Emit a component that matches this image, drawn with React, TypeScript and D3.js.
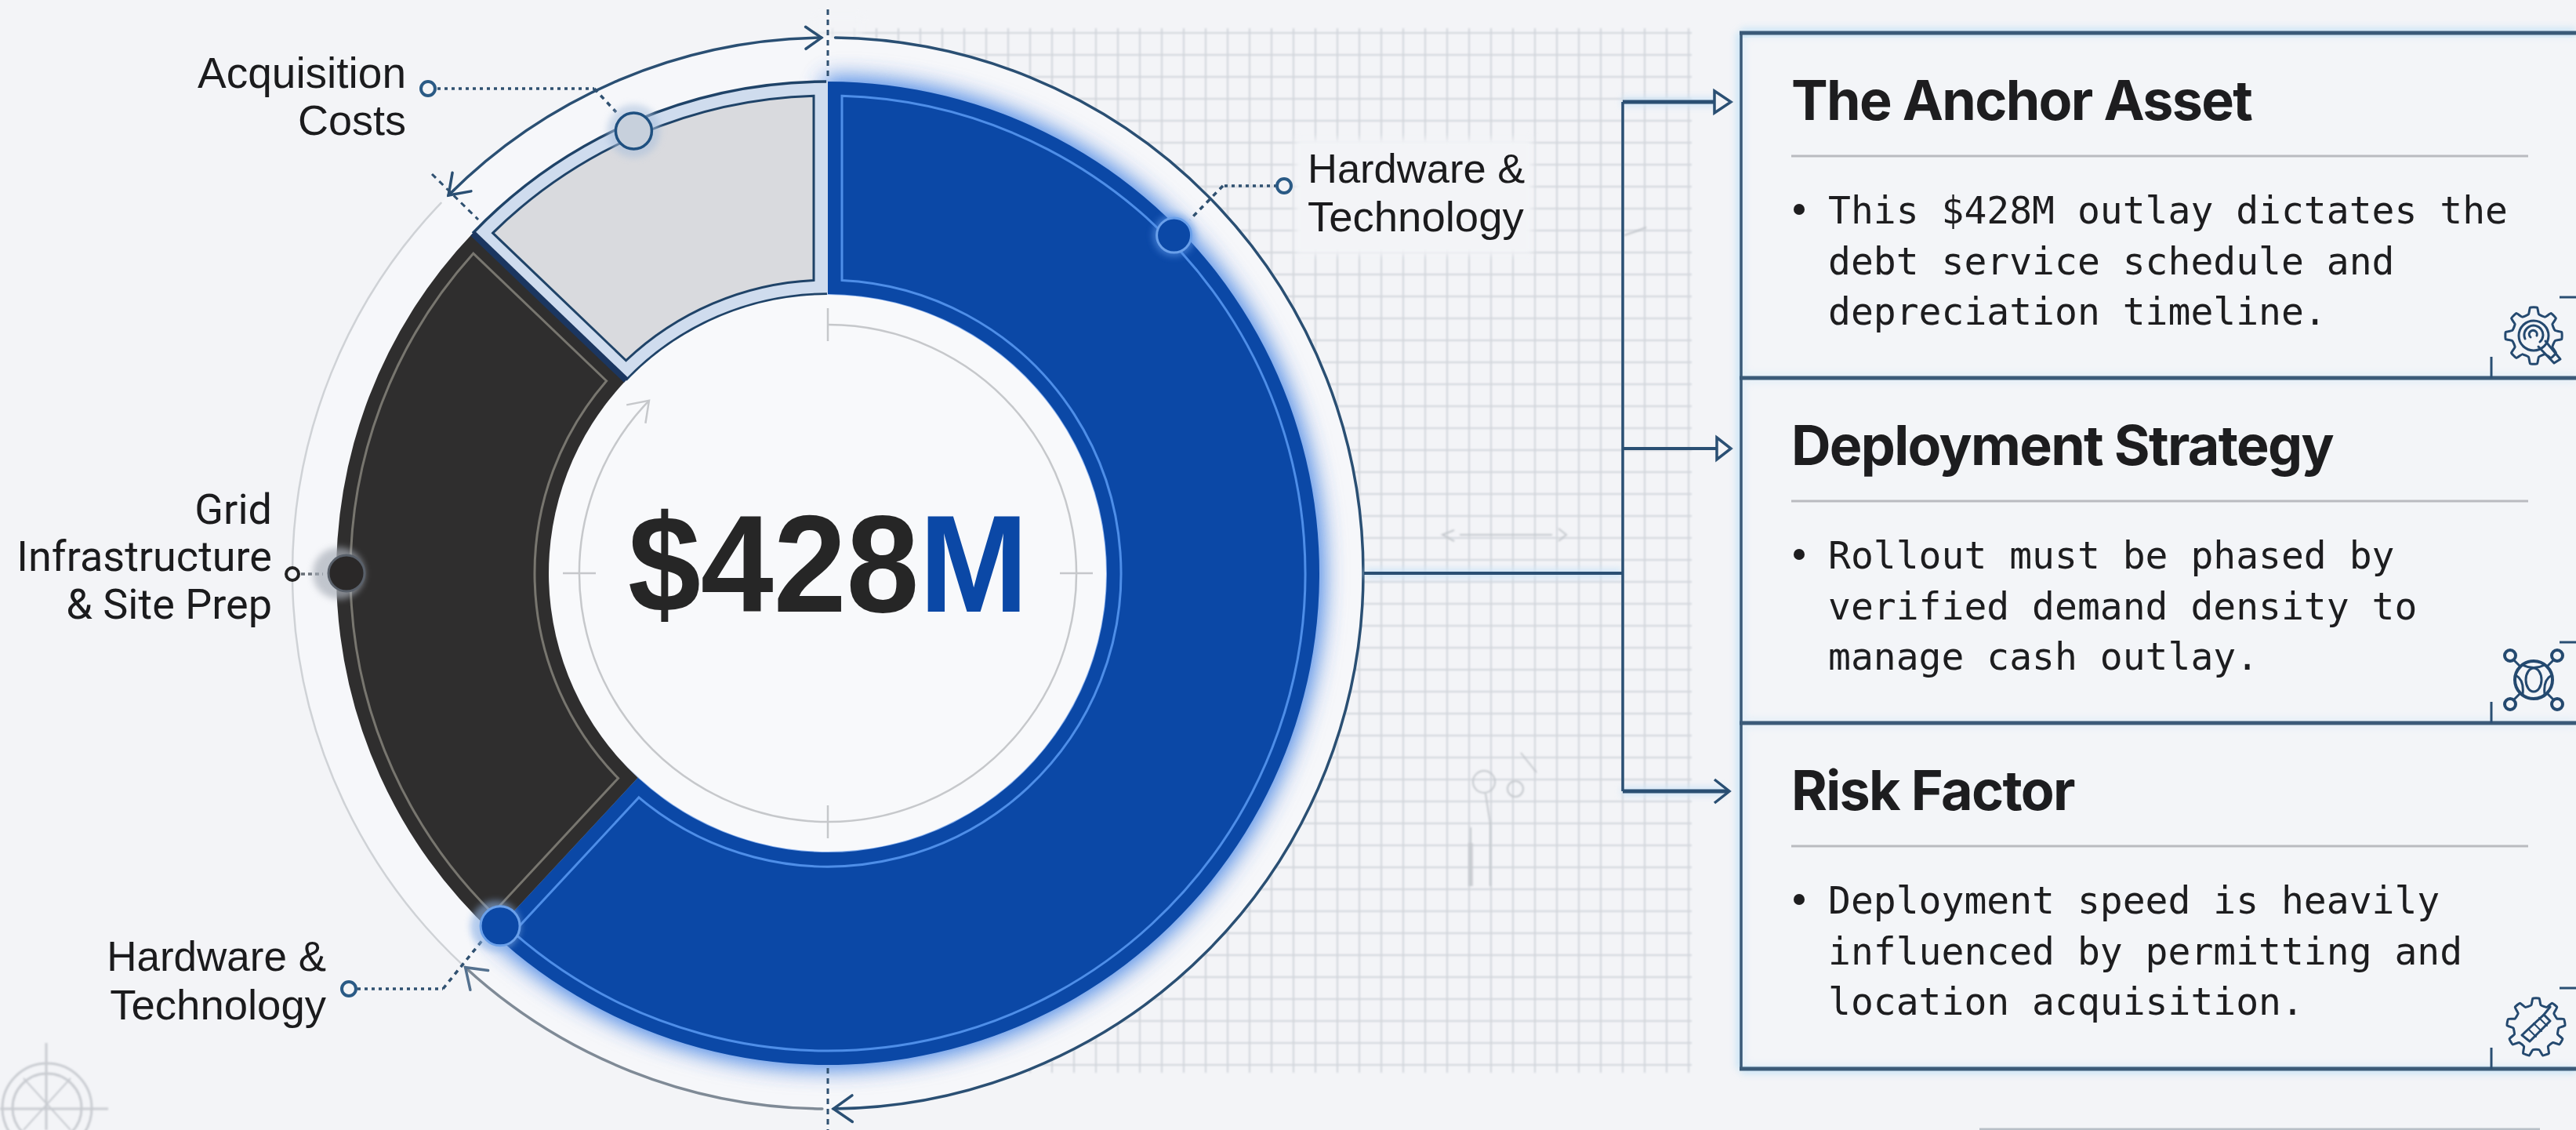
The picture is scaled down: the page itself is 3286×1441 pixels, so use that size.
import React from "react";
import * as d3 from "d3";

// Capital outlay split, in $M
const segmentNames = ["Hardware & Technology", "Grid Infrastructure & Site Prep", "Acquisition Costs"];
const segmentValues = [265, 108, 55];
const totalLabel = "$428";
const totalUnit = "M";

const cardTitles = ["The Anchor Asset", "Deployment Strategy", "Risk Factor"];
const cardLines = [
  ["This $428M outlay dictates the", "debt service schedule and", "depreciation timeline."],
  ["Rollout must be phased by", "verified demand density to", "manage cash outlay."],
  ["Deployment speed is heavily", "influenced by permitting and", "location acquisition."],
];

const W = 3286;
const H = 1441;
const cx = 1056;
const cy = 731;
const R = 627;
const r0 = 356;
const INSET = 18;
const RING = 683;
const INNER_RING = 317;
const NAVY = "#2a4f73";
const BLUE = "#0b48a6";
const SANS = "'Liberation Sans', Arial, sans-serif";
const ROBOTO = "Roboto, sans-serif";
const MONO = "'DejaVu Sans Mono', monospace";
const BG = "#f3f4f7";
const deg = (d: number) => (d * Math.PI) / 180;

const polar = (a: number, r: number): [number, number] => [cx + r * Math.sin(a), cy - r * Math.cos(a)];

const ringArc = (r: number, a0: number, a1: number) => {
  const p = d3.path();
  const [x, y] = polar(a0, r);
  p.moveTo(x, y);
  p.arc(cx, cy, r, a0 - Math.PI / 2, a1 - Math.PI / 2, false);
  return p.toString();
};

// Open arrowhead on a circle, pointing along the clockwise tangent when dir is 1
const chevron = (a: number, r: number, dir: number, size: number) => {
  const [x, y] = polar(a, r);
  const tx = Math.cos(a) * dir;
  const ty = Math.sin(a) * dir;
  const nx = Math.sin(a);
  const ny = -Math.cos(a);
  const p1 = [x - tx * size + nx * size * 0.7, y - ty * size + ny * size * 0.7];
  const p2 = [x - tx * size - nx * size * 0.7, y - ty * size - ny * size * 0.7];
  return `M${p1[0]},${p1[1]}L${x},${y}L${p2[0]},${p2[1]}`;
};

// Cog outline around the origin
const gearPath = (teeth: number, outer: number, inner: number) => {
  const pts: [number, number][] = [];
  const step = (Math.PI * 2) / teeth;
  d3.range(teeth).forEach((i) => {
    const a = i * step;
    pts.push([a - step * 0.3, inner], [a - step * 0.16, outer], [a + step * 0.16, outer], [a + step * 0.3, inner]);
  });
  return d3.lineRadial().curve(d3.curveCardinalClosed.tension(0.6))(pts) as string;
};

const pie = d3.pie<number>().sort(null).startAngle(0).endAngle(Math.PI * 2)(segmentValues);
const [hardware, gridSite, acquisition] = pie;

const sliceArc = d3.arc<any>().innerRadius(r0).outerRadius(R);
const padA = 0.04;
const insetArc = d3
  .arc<any>()
  .innerRadius(r0 + INSET)
  .outerRadius(R - INSET)
  .padAngle(padA)
  .padRadius(INSET / Math.sin(padA / 2));

const gridX = d3.range(2154, 1040, -28);
const gridY = d3.range(42, 1370, 28);
const cardTops = [42, 482, 922];
const cardBottom = 1363;

function Card({ index }: { index: number }) {
  const top = cardTops[index];
  const bottom = index < 2 ? cardTops[index + 1] : cardBottom;
  return (
    <g>
      <text x={2285} y={top + 111} fontFamily="Inter, sans-serif" fontWeight={700} fontSize={70} letterSpacing={-1.7} fill="#1d1d1f">
        {cardTitles[index]}
      </text>
      <line x1={2285} x2={3225} y1={top + 157} y2={top + 157} stroke="#b9bbc0" strokeWidth={3} />
      <circle cx={2295} cy={top + 225} r={7} fill="#1d1d1f" />
      {cardLines[index].map((line, i) => (
        <text key={i} x={2332} y={top + 243 + i * 64.5} fontFamily={MONO} fontSize={48} fill="#1d1d1f">
          {line}
        </text>
      ))}
      <line x1={3178} x2={3178} y1={bottom - 27} y2={bottom} stroke={NAVY} strokeWidth={3} />
      <line x1={3265} x2={3286} y1={bottom - 103} y2={bottom - 103} stroke={NAVY} strokeWidth={3} />
    </g>
  );
}

function Icons() {
  const stroke = { fill: "none", stroke: "#24496f", strokeWidth: 3, strokeLinejoin: "round" as const, strokeLinecap: "round" as const };
  return (
    <g>
      <g transform="translate(3232,428)" {...stroke}>
        <path d={gearPath(8, 36, 28)} />
        <circle r={19} />
        <path d="M-11,4A12,12 0 1 1 8,8" />
        <path d="M-4,2A5,5 0 1 1 4,0" />
        <path d="M6,14L26,35L34,30L15,7" />
      </g>
      <g transform="translate(3232,867)" {...stroke}>
        <circle r={24} strokeWidth={4} />
        <ellipse rx={10} ry={15} />
        <path d="M-23,-6Q-12,0 -14,18M23,-6Q12,0 14,18M-14,-19Q0,-12 14,-19" />
        {[[-1, -1], [1, -1], [-1, 1], [1, 1]].map(([sx, sy], i) => (
          <g key={i}>
            <line x1={sx * 17} y1={sy * 17} x2={sx * 25} y2={sy * 25} />
            <circle cx={sx * 30} cy={sy * 31} r={7} strokeWidth={4} />
          </g>
        ))}
      </g>
      <g transform="translate(3235,1310)" {...stroke}>
        <path d={gearPath(9, 37, 29)} />
        <path d="M-18,10L10,-16L18,-8L-8,18Z" />
        <path d="M-10,2L0,12M-3,-5L7,5M4,-12L14,-2" strokeWidth={2} />
        <path d="M10,-16L18,-26" />
      </g>
    </g>
  );
}

export default function App() {
  const a0 = hardware.endAngle;
  const a1 = gridSite.endAngle;
  const dots = {
    acquisition: polar(deg(336.3), 616),
    hardwareTop: polar(deg(45.7), 617),
    hardwareLow: polar(a0, 614),
    grid: polar(deg(270), 614),
  };

  return (
    <svg width={W} height={H} viewBox={`0 0 ${W} ${H}`} style={{ position: "absolute", left: 0, top: 0, display: "block" }}>
      <defs>
        <filter id="soft" x="-10%" y="-10%" width="120%" height="120%"><feGaussianBlur stdDeviation={0.8} /></filter>
        <filter id="blur4" x="-20%" y="-20%" width="140%" height="140%"><feGaussianBlur stdDeviation={4} /></filter>
        <filter id="glow" x="-20%" y="-20%" width="140%" height="140%"><feGaussianBlur stdDeviation={14} /></filter>
        <filter id="wide" x="-30%" y="-30%" width="160%" height="160%"><feGaussianBlur stdDeviation={18} /></filter>
      </defs>
      <rect width={W} height={H} fill={BG} />

      {/* Drafting grid behind the chart */}
      <g stroke="#d1d5db" strokeWidth={2} filter="url(#soft)">
        {gridX.map((x) => <line key={x} x1={x} x2={x} y1={36} y2={1368} />)}
        {gridY.map((y) => <line key={y} x1={1040} x2={2158} y1={y} y2={y} />)}
      </g>
      <rect x={1040} y={20} width={60} height={1360} fill={BG} opacity={0.6} filter="url(#blur4)" />

      {/* Faint sketch marks on the grid */}
      <g fill="none" stroke="#c4c8cd" strokeWidth={2} filter="url(#soft)">
        <path d="M1862,682H1980M1855,676L1840,682L1855,690M1988,674L1998,682L1988,690" />
        <circle cx={1893} cy={997} r={14} />
        <circle cx={1933} cy={1006} r={10} />
        <path d="M1895,1012L1901,1050V1130M1876,1055V1130" />
        <path d="M1876,1075V1130" strokeWidth={6} opacity={0.7} />
        <path d="M1940,960L1960,985" />
        <path d="M2072,300Q2085,296 2100,290" />
      </g>

      {/* Clear space for the label that sits on the grid */}
      <rect x={1652} y={177} width={303} height={148} fill={BG} filter="url(#blur4)" />

      {/* Disc that clears the grid around the donut */}
      <circle cx={cx} cy={cy} r={RING} fill="#f6f7fa" />

      {/* Compass rose */}
      <g fill="none" stroke="#c9ccd1" strokeWidth={3} filter="url(#soft)">
        <circle cx={60} cy={1413} r={57} />
        <circle cx={60} cy={1413} r={44} />
        <line x1={59} x2={59} y1={1330} y2={1441} />
        <line x1={0} x2={138} y1={1414} y2={1414} />
        <path d="M30,1375L90,1441M90,1375L30,1441" strokeWidth={2} />
      </g>

      {/* Blue glow and soft shadow under the largest slice */}
      <path transform={`translate(${cx},${cy})`} d={sliceArc(hardware) as string} fill="#c3c8d4" filter="url(#wide)" opacity={0.8} />
      <path transform={`translate(${cx},${cy})`} d={sliceArc(hardware) as string} fill="#3f85ee" stroke="#3f85ee" strokeWidth={10} filter="url(#glow)" opacity={0.9} />

      {/* Donut slices, drawn from the pie layout */}
      <g transform={`translate(${cx},${cy})`}>
        <path d={sliceArc(hardware) as string} fill={BLUE} />
        <path d={insetArc(hardware) as string} fill="none" stroke="#4e8ee8" strokeWidth={3} />
        <path d={sliceArc(gridSite) as string} fill="#2f2e2e" />
        <path d={insetArc(gridSite) as string} fill="none" stroke="#78766f" strokeWidth={3} />
        <path d={sliceArc(acquisition) as string} fill="#cfdcee" />
        <path d={insetArc(acquisition) as string} fill="#d9dade" stroke="#1f4368" strokeWidth={3} />
      </g>
      <path d={ringArc(R, a1, Math.PI * 2 - 0.003)} fill="none" stroke="#1f4368" strokeWidth={3.5} />
      <path d={ringArc(r0, a1, Math.PI * 2 - 0.003)} fill="none" stroke="#1f4368" strokeWidth={3.5} />
      <line
        x1={polar(a1, r0)[0]} y1={polar(a1, r0)[1]}
        x2={polar(a1, R)[0]} y2={polar(a1, R)[1]}
        stroke="#1b3660" strokeWidth={8}
      />

      {/* Centre hole and measuring ring */}
      <circle cx={cx} cy={cy} r={r0 - 1} fill="#f8f9fb" />
      <path d={ringArc(INNER_RING, 0, deg(314))} fill="none" stroke="#c6c8cb" strokeWidth={2.5} />
      <path d={chevron(deg(314), INNER_RING, 1, 24)} fill="none" stroke="#c6c8cb" strokeWidth={2.5} />
      <g stroke="#c6c8cb" strokeWidth={2.5}>
        {[0, 90, 180, 270].map((d) => {
          const [x1, y1] = polar(deg(d), 296);
          const [x2, y2] = polar(deg(d), 338);
          return <line key={d} x1={x1} y1={y1} x2={x2} y2={y2} />;
        })}
      </g>
      <text transform="translate(801,780) scale(1,1.05)" fontFamily={SANS} fontWeight={700} fontSize={167} fill="#262626">
        {totalLabel}
        <tspan fill={BLUE}>{totalUnit}</tspan>
      </text>

      {/* Outer span arcs with arrowheads at each end */}
      <g fill="none" strokeLinecap="round">
        <path d={ringArc(RING, deg(0.8), deg(179.4))} stroke={NAVY} strokeWidth={3.5} />
        <path d={ringArc(RING, deg(180.6), a0 - 0.005)} stroke="#7f8a96" strokeWidth={3.5} />
        <path d={ringArc(RING, a0, a1)} stroke="#cfd2d6" strokeWidth={2.5} />
        <path d={ringArc(RING, a1 + 0.02, Math.PI * 2 - 0.012)} stroke={NAVY} strokeWidth={3.5} />
        <path d={chevron(Math.PI * 2 - 0.012, RING, 1, 20)} stroke={NAVY} strokeWidth={3.5} />
        <path d={chevron(a1 + 0.02, RING, -1, 24)} stroke={NAVY} strokeWidth={3.5} />
        <path d={chevron(deg(179.4), RING, 1, 24)} stroke={NAVY} strokeWidth={3.5} />
        <path d={chevron(a0 - 0.005, RING, 1, 24)} stroke="#54718f" strokeWidth={3.5} />
      </g>

      {/* Dashed section guides */}
      <g stroke="#2f5070" strokeWidth={3} strokeDasharray="7 6" fill="none">
        <line x1={cx} x2={cx} y1={12} y2={100} />
        <line x1={cx} x2={cx} y1={1362} y2={1441} />
        <line x1={551} y1={222} x2={610} y2={280} />
      </g>

      {/* Callout leaders */}
      <g fill="none" stroke="#2f5070" strokeWidth={3.5}>
        <path d="M558,113H758" strokeDasharray="4 5" />
        <path d="M758,113L786,143" strokeDasharray="6 6" />
        <path d="M1629,237H1560" strokeDasharray="4 5" />
        <path d="M1560,237L1518,280" strokeDasharray="6 6" />
        <path d="M456,1261H565" strokeDasharray="4 5" />
        <path d="M565,1261L617,1197" strokeDasharray="6 6" />
        <path d="M384,732H412" strokeDasharray="5 4" stroke="#666d75" />
      </g>
      <g fill={BG} stroke="#2a5a85" strokeWidth={4}>
        <circle cx={546} cy={113} r={9} />
        <circle cx={1638} cy={237} r={9} />
        <circle cx={445} cy={1261} r={9} />
        <circle cx={373} cy={732} r={8} stroke="#222" />
      </g>

      {/* Slice markers */}
      <circle cx={dots.acquisition[0]} cy={dots.acquisition[1]} r={34} fill="#a9bfdc" opacity={0.55} filter="url(#blur4)" />
      <circle cx={dots.acquisition[0]} cy={dots.acquisition[1]} r={23} fill="#c7d0dc" stroke="#1f5080" strokeWidth={3.5} />
      <circle cx={dots.hardwareTop[0]} cy={dots.hardwareTop[1]} r={27} fill="#5b94e6" opacity={0.6} filter="url(#blur4)" />
      <circle cx={dots.hardwareTop[0]} cy={dots.hardwareTop[1]} r={22} fill={BLUE} stroke="#6aa0ea" strokeWidth={3} />
      <circle cx={dots.hardwareLow[0] - 6} cy={dots.hardwareLow[1]} r={32} fill="#8eb3e6" opacity={0.6} filter="url(#blur4)" />
      <circle cx={dots.hardwareLow[0]} cy={dots.hardwareLow[1]} r={25} fill={BLUE} stroke="#6aa0ea" strokeWidth={3} />
      <circle cx={dots.grid[0] - 10} cy={dots.grid[1]} r={33} fill="#aab0ba" opacity={0.7} filter="url(#blur4)" />
      <circle cx={dots.grid[0]} cy={dots.grid[1]} r={23} fill="#2a2828" stroke="#59606a" strokeWidth={3} />

      {/* Slice labels */}
      <g fontFamily={SANS} fill="#1b1b1d">
        <text x={518} y={112} textAnchor="end" fontSize={55}>Acquisition</text>
        <text x={518} y={172} textAnchor="end" fontSize={54}>Costs</text>
        <text x={1668} y={233} fontSize={52.5}>Hardware &amp;</text>
        <text x={1668} y={295} fontSize={54.5}>Technology</text>
        <text x={416} y={1238} textAnchor="end" fontSize={53}>Hardware &amp;</text>
        <text x={416} y={1300} textAnchor="end" fontSize={54.5}>Technology</text>
      </g>
      <g fontFamily={ROBOTO} fontSize={54} fill="#1b1b1d" textAnchor="end">
        <text x={347} y={668}>Grid</text>
        <text x={347} y={728}>Infrastructure</text>
        <text x={347} y={789}>&amp; Site Prep</text>
      </g>

      {/* Bracket from the donut to the cards */}
      <g stroke="#cfe5f7" strokeWidth={11} fill="none" filter="url(#blur4)">
        <path d="M1742,731H2069M2069,130H2190M2069,1009H2200" />
      </g>
      <g stroke={NAVY} fill="none">
        <path d="M1740,731H2070" strokeWidth={4} />
        <path d="M2070,130V1009" strokeWidth={3.5} />
        <path d="M2070,130H2190" strokeWidth={5} />
        <path d="M2070,572H2192" strokeWidth={4} />
        <path d="M2070,1009H2204" strokeWidth={5} />
        <path d="M2187,116L2208,130L2187,144Z" strokeWidth={3.5} fill={BG} />
        <path d="M2190,558L2208,572L2190,586Z" strokeWidth={3.5} fill={BG} />
        <path d="M2187,994L2206,1009L2187,1024" strokeWidth={3.5} />
      </g>

      {/* Cards */}
      <g stroke="#cde6f6" strokeWidth={13} fill="none" filter="url(#blur4)">
        <path d="M2221,42V1363" />
        {[42, 482, 922, 1363].map((y) => <path key={y} d={`M2221,${y}H3286`} />)}
      </g>
      <rect x={2223} y={48} width={1063} height={1311} fill="#f4f5f8" opacity={0.6} />
      <g stroke="#3a5a78" fill="none">
        <path d="M2221,40V1365" strokeWidth={3.5} />
        {[42, 482, 922, 1363].map((y) => <path key={y} d={`M2219,${y}H3286`} strokeWidth={5} />)}
      </g>
      {cardTitles.map((_, i) => <Card key={i} index={i} />)}
      <Icons />

      {/* Edge of the panel below */}
      <path d="M2525,1440H3240" stroke="#b8bfc7" strokeWidth={3} />
    </svg>
  );
}
